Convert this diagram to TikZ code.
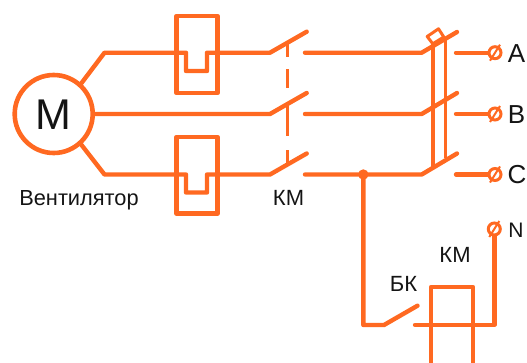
\documentclass[tikz,border=0pt]{standalone}
\usepackage{fontspec}
\setmainfont{Liberation Sans}
\definecolor{wire}{RGB}{255,105,33}
\definecolor{ink}{RGB}{20,20,20}
\tikzset{
 wireline/.style={draw=wire,line width=4.4pt,line cap=round,line join=round},
 thinrod/.style={draw=wire,line width=3pt,line cap=round,line join=round},
 linkdash/.style={draw=wire,line width=2.6pt},
 terminal/.style={circle,draw=wire,line width=3pt,inner sep=0pt,minimum size=12pt},
 lab/.style={text=ink,inner sep=0pt,anchor=base},
}
\begin{document}
\begin{tikzpicture}[x=1pt,y=-1pt]
\useasboundingbox (0,0) rectangle (527,362);
% motor
\node[circle,draw=wire,line width=4.6pt,minimum size=78pt,inner sep=0pt] (motor) at (53.7,114) {};
\node[lab,font=\fontsize{43}{43}\selectfont] at (53.3,129.5) {M};
\node[lab,font=\fontsize{21.8}{22}\selectfont] at (79,205) {Вентилятор};
% coordinates
\coordinate (t1) at (104.5,52.7);
\coordinate (t2) at (104.5,174.5);
\coordinate (s1) at (270,52.7);
\coordinate (s2) at (270,114);
\coordinate (s3) at (270,174.5);
% motor wires
\draw[wireline] (motor.48) -- (t1) -- (186,52.7) -- (186,71) -- (207,71) -- (207,52.7) -- (s1) -- (306.7,31.7);
\draw[wireline] (motor.0) -- (s2) -- (306.7,93);
\draw[wireline] (motor.-48) -- (t2) -- (186,174.5) -- (186,192.5) -- (207,192.5) -- (207,174.5) -- (s3) -- (306.7,153.5);
% thermal relay boxes
\draw[wireline] (176.5,15.7) rectangle (217.5,93);
\draw[wireline] (176.5,137) rectangle (217.5,213.5);
% KM link
\draw[linkdash] (287.4,43) -- (287.4,57) (287.4,69) -- (287.4,88) (287.4,104) -- (287.4,136) (287.4,150) -- (287.4,164);
% terminals
\node[terminal] (A) at (495,52.7) {};
\node[terminal] (B) at (495,114) {};
\node[terminal] (C) at (495,174.5) {};
\node[terminal] (N) at (494.3,229) {};
\foreach \n in {A,B,C,N} \draw[draw=wire,line width=2pt] ([shift={(-5,8)}]\n.center) -- ([shift={(5,-8)}]\n.center);
% mid wires and breaker
\coordinate (j) at (363.3,174.5);
\draw[wireline] (305,52.7) -- (421.7,52.7) -- (457,32);
\draw[wireline] (305,114) -- (421.7,114) -- (457,93);
\draw[wireline] (305,174.5) -- (j) -- (421.7,174.5) -- (457,153.5);
\draw[wireline] (456,52.7) -- (A);
\draw[wireline] (456,114) -- (B);
\draw[wireline] (456,174.5) -- (C);
% rods
\draw[wireline,line cap=butt] (432.8,43) -- (432.8,167);
\draw[thinrod,line cap=butt] (445,38) -- (445,158);
\draw[thinrod,fill=white] (427.2,36.5) -- (438.5,28.8) -- (443.8,37) -- (432.8,43.8) -- cycle;
% junction and BK
\fill[wire] (j) circle (5.2pt);
\draw[wireline] (j) -- (363.3,325) -- (384,325) -- (417.5,305.7);
\draw[wireline] (415,325) -- (494.3,325) -- (N.south);
% coil
\draw[wireline] (431,370) -- (431,287) -- (473,287) -- (473,370);
% labels
\node[lab,font=\fontsize{26}{26}\selectfont] at (516.5,62) {A};
\node[lab,font=\fontsize{26}{26}\selectfont] at (516.5,123) {B};
\node[lab,font=\fontsize{26}{26}\selectfont] at (517,183.5) {C};
\node[lab,font=\fontsize{21}{21}\selectfont] at (516,237) {N};
\node[lab,font=\fontsize{22}{22}\selectfont] at (288.5,205) {КМ};
\node[lab,font=\fontsize{22}{22}\selectfont] at (455,262.5) {КМ};
\node[lab,font=\fontsize{22}{22}\selectfont] at (403.5,291) {БК};
\end{tikzpicture}
\end{document}
